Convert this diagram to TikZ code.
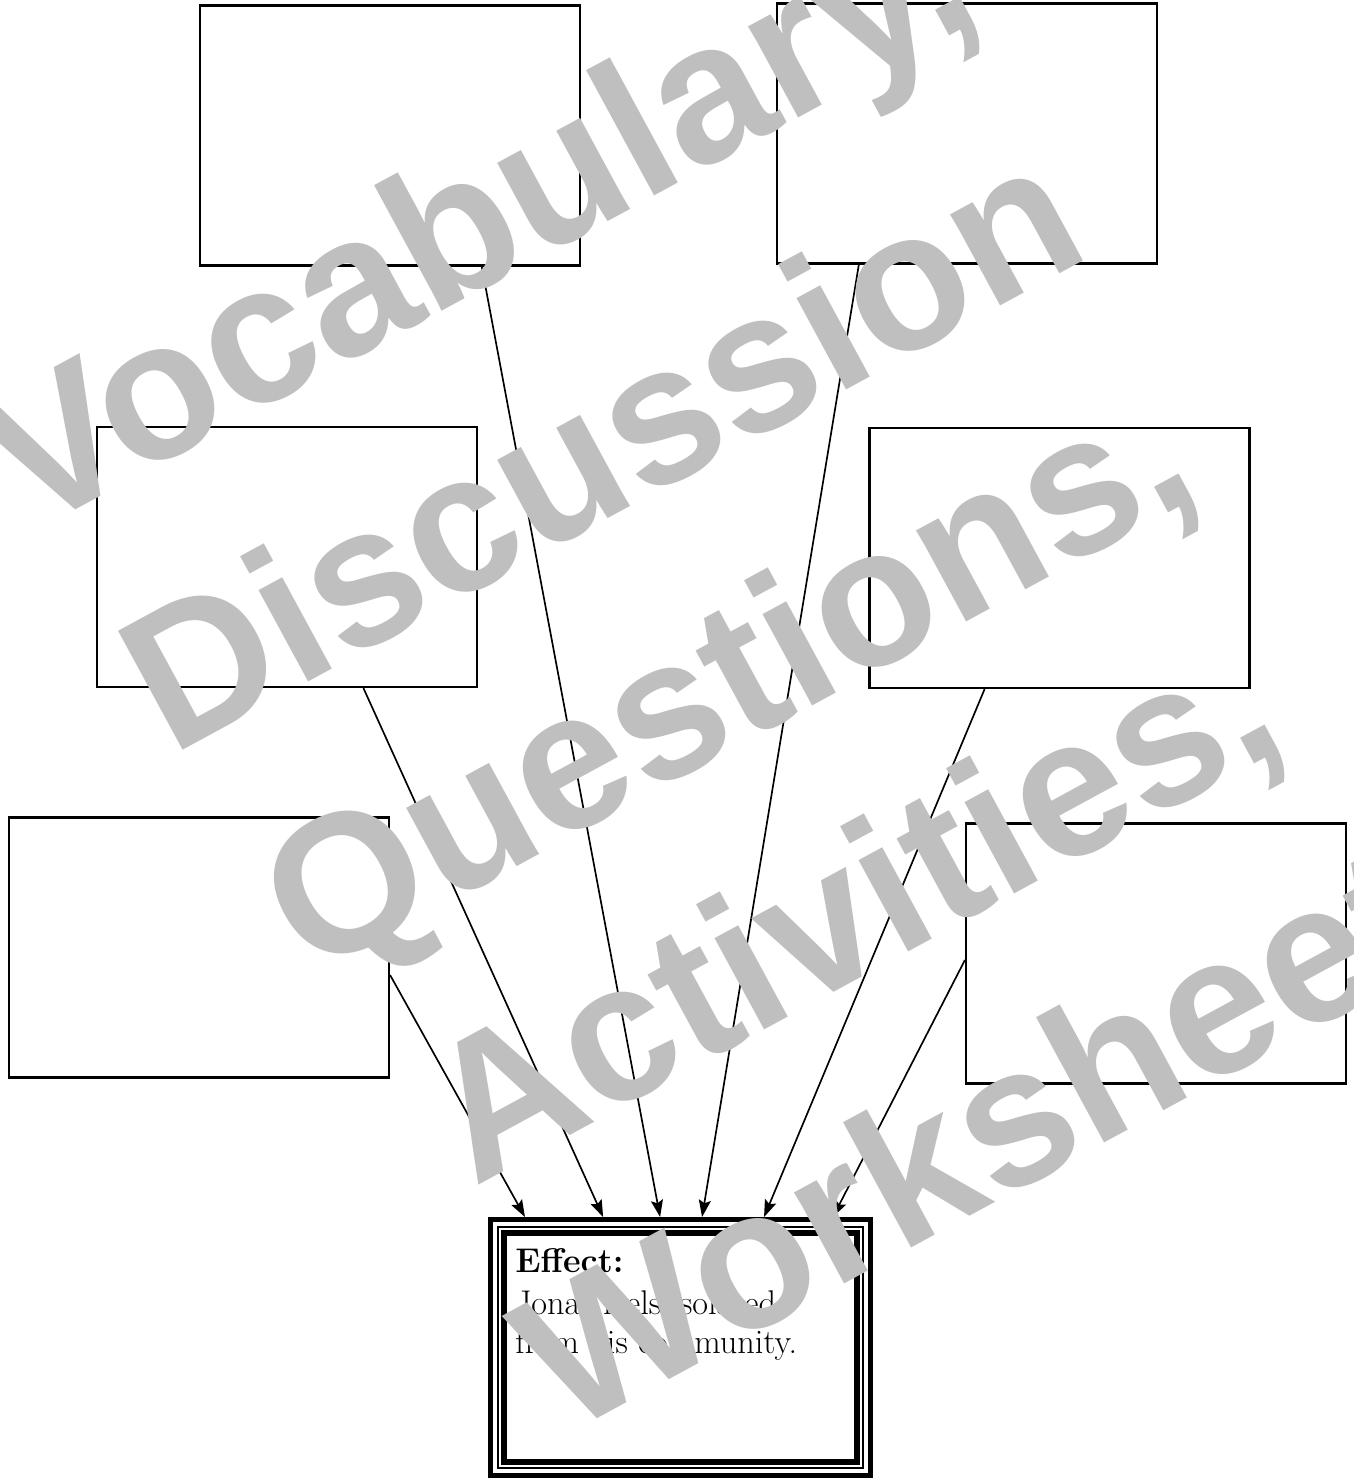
\documentclass[tikz,border=0pt]{standalone}
\usepackage{fontspec}
\newfontfamily\wmfont{Liberation Sans}
\usetikzlibrary{arrows.meta,calc}
\tikzset{
  card/.style={draw, line width=1.3pt, minimum width=7.6cm, minimum height=5.2cm, inner sep=0pt},
  feed/.style={line width=0.95pt, -{Stealth[length=0.34cm,width=0.24cm,inset=0.06cm]}}
}
\begin{document}
\begin{tikzpicture}[x=0.02cm, y=-0.02cm, line join=miter]
  \definecolor{wmgray}{RGB}{191,191,191}
  \useasboundingbox (0,0) rectangle (1353,1478);
  \node[card] (tl) at (390,135.5) {};
  \node[card] (tr) at (967,133.5) {};
  \node[card] (ml) at (287,557) {};
  \node[card] (mr) at (1059.5,558) {};
  \node[card] (bl) at (199,947.5) {};
  \node[card] (br) at (1156,953.5) {};
  \node[draw, line width=0.1cm, minimum width=7.6cm, minimum height=5.12cm] (fx) at (680.5,1347.5) {};
  \draw[line width=0.04cm] ([shift={(10,10)}]fx.north west) rectangle ([shift={(-10,-10)}]fx.south east);
  \draw[line width=0.11cm] ([shift={(16,16)}]fx.north west) rectangle ([shift={(-16,-16)}]fx.south east);
  \node[anchor=base west, align=left, inner sep=0pt, font=\fontsize{19.5}{22}\selectfont] (fxtext) at (515,1353)
    {\textbf{Effect:}\\[2pt] Jonas feels isolated\\ from his community.};
  \draw[feed] ($(bl.north east)!0.605!(bl.south east)$) -- ($(fx.north west)!0.096!(fx.north east)$);
  \draw[feed] ($(ml.south west)!0.70!(ml.south east)$) -- ($(fx.north west)!0.299!(fx.north east)$);
  \draw[feed] ($(tl.south west)!0.74!(tl.south east)$) -- ($(fx.north west)!0.447!(fx.north east)$);
  \draw[feed] ($(tr.south west)!0.217!(tr.south east)$) -- ($(fx.north west)!0.556!(fx.north east)$);
  \draw[feed] ($(mr.south west)!0.304!(mr.south east)$) -- ($(fx.north west)!0.717!(fx.north east)$);
  \draw[feed] ($(br.north west)!0.525!(br.south west)$) -- ($(fx.north west)!0.896!(fx.north east)$);
  \node[rotate=28.5, text=wmgray, align=center, font=\wmfont\bfseries\fontsize{112}{149}\selectfont] (wm) at (724,674)
    {Vocabulary,\\ Discussion\\ Questions,\\ Activities,\\ Worksheet};
\end{tikzpicture}
\end{document}
